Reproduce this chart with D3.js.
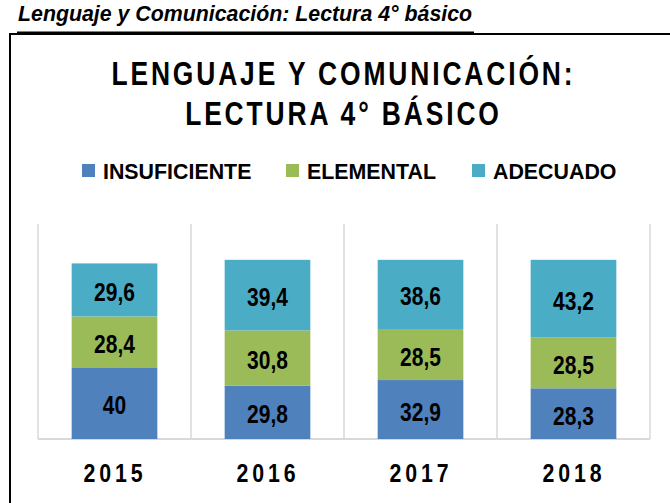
<!DOCTYPE html>
<html>
<head>
<meta charset="utf-8">
<script src="https://cdn.jsdelivr.net/npm/d3@7"></script>
<style>
  body { margin: 0; background: #fff; }
  svg { display: block; }
  text { font-family: "Liberation Sans", Arial, sans-serif; font-weight: bold; }
</style>
</head>
<body>
<div id="vis"></div>
<script>
// Frame
const FRAME_WIDTH = 670;
const FRAME_HEIGHT = 503;

// Data
const YEARS = ["2015", "2016", "2017", "2018"];
const SERIES = ["INSUFICIENTE", "ELEMENTAL", "ADECUADO"];
const INSUFICIENTE = [40, 29.8, 32.9, 28.3];
const ELEMENTAL = [28.4, 30.8, 28.5, 28.5];
const ADECUADO = [29.6, 39.4, 38.6, 43.2];
const COLORS = ["#4f81bd", "#9bbb59", "#4bacc6"];

const SVG = d3.select("#vis")
  .append("svg")
    .attr("width", FRAME_WIDTH)
    .attr("height", FRAME_HEIGHT);

// helper for condensed text (narrow font look), centred on cx
function narrowText(parent, cx, y, str, size, sx, spacing) {
  const g = parent.append("g")
    .attr("transform", "translate(" + cx + "," + y + ") scale(" + sx + ",1)");
  return g.append("text")
    .attr("x", spacing / 2)
    .attr("text-anchor", "middle")
    .attr("font-size", size + "px")
    .attr("letter-spacing", spacing + "px")
    .text(str);
}

// Header with underline + box
SVG.append("g")
  .attr("transform", "translate(18,21) scale(0.97,1)")
  .append("text")
    .attr("font-size", "22px")
    .attr("font-style", "italic")
    .text("Lenguaje y Comunicación: Lectura 4° básico");

SVG.append("line")
  .attr("x1", 17).attr("x2", 474)
  .attr("y1", 33).attr("y2", 33)
  .attr("stroke", "#000").attr("stroke-width", 3);

SVG.append("line")
  .attr("x1", 9).attr("x2", FRAME_WIDTH)
  .attr("y1", 34).attr("y2", 34)
  .attr("stroke", "#000").attr("stroke-width", 2);

SVG.append("line")
  .attr("x1", 10).attr("x2", 10)
  .attr("y1", 33).attr("y2", FRAME_HEIGHT)
  .attr("stroke", "#000").attr("stroke-width", 2);

// Chart title
const TITLE = ["LENGUAJE Y COMUNICACIÓN:", "LECTURA 4° BÁSICO"];
TITLE.forEach((t, i) => narrowText(SVG, 342, 85 + i * 40, t, 33, 0.8, 3.6));

// Scales
const X_SCALE = d3.scaleBand()
  .domain(YEARS)
  .range([38, 650])
  .paddingInner(0.44)
  .paddingOuter(0.22);

const Y_SCALE = d3.scaleLinear()
  .domain([0, 120])
  .range([439, 224]);

const STEP = X_SCALE.step();
const X0 = X_SCALE.range()[0];

// Vertical separators
SVG.selectAll(".sep")
  .data(d3.range(YEARS.length + 1))
  .enter()
  .append("line")
    .attr("x1", i => X0 + i * STEP)
    .attr("x2", i => X0 + i * STEP)
    .attr("y1", Y_SCALE(120))
    .attr("y2", Y_SCALE(0))
    .attr("stroke", "#d9d9d9")
    .attr("stroke-width", 1.5);

// Baseline
SVG.append("line")
  .attr("x1", X0).attr("x2", X0 + STEP * YEARS.length)
  .attr("y1", Y_SCALE(0)).attr("y2", Y_SCALE(0))
  .attr("stroke", "#d9d9d9")
  .attr("stroke-width", 2);

// Stack
const TABLE = YEARS.map((y, i) => ({
  year: y,
  INSUFICIENTE: INSUFICIENTE[i],
  ELEMENTAL: ELEMENTAL[i],
  ADECUADO: ADECUADO[i]
}));
const STACKED = d3.stack().keys(SERIES)(TABLE);

const groups = SVG.selectAll(".series")
  .data(STACKED)
  .enter()
  .append("g")
    .attr("fill", (d, i) => COLORS[i]);

groups.selectAll("rect")
  .data(d => d)
  .enter()
  .append("rect")
    .attr("x", d => X_SCALE(d.data.year))
    .attr("y", d => Y_SCALE(d[1]))
    .attr("width", X_SCALE.bandwidth())
    .attr("height", d => Y_SCALE(d[0]) - Y_SCALE(d[1]));

// Value labels
STACKED.forEach(s => {
  s.forEach(v => {
    narrowText(SVG,
      X_SCALE(v.data.year) + X_SCALE.bandwidth() / 2,
      Y_SCALE((v[0] + v[1]) / 2) + 11,
      String(v.data[s.key]).replace(".", ","),
      25, 0.84, 0)
      .attr("fill", "#000");
  });
});

// Year labels
YEARS.forEach(y => {
  narrowText(SVG, X_SCALE(y) + X_SCALE.bandwidth() / 2 - 1.5, 482, y, 26, 0.82, 4.7);
});

// Legend
const LEGEND_X = [82, 286, 472];
const legend = SVG.selectAll(".legend")
  .data(SERIES)
  .enter()
  .append("g")
    .attr("transform", (d, i) => "translate(" + LEGEND_X[i] + ",164)");

legend.append("rect")
  .attr("width", 13).attr("height", 13)
  .attr("fill", (d, i) => COLORS[i]);

legend.append("g")
  .attr("transform", "translate(21,14.5) scale(0.93,1)")
  .append("text")
    .attr("font-size", "23px")
    .text(d => d);
</script>
</body>
</html>
